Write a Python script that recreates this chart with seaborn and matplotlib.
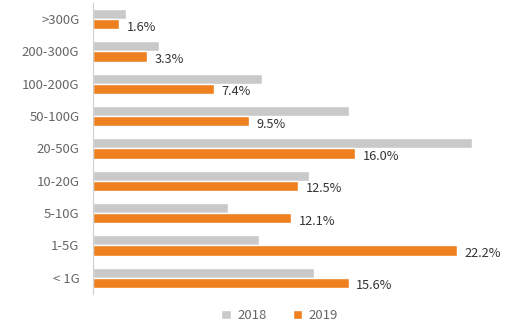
import matplotlib
matplotlib.use("Agg")
import matplotlib.pyplot as plt
import seaborn as sns
import pandas as pd
import numpy as np

categories = [">300G", "200-300G", "100-200G", "50-100G", "20-50G",
              "10-20G", "5-10G", "1-5G", "< 1G"]
share_2018 = [2.0, 4.0, 10.3, 15.6, 23.1, 13.2, 8.2, 10.1, 13.5]
share_2019 = [1.6, 3.3, 7.4, 9.5, 16.0, 12.5, 12.1, 22.2, 15.6]
years = ["2018", "2019"]
colors = ["#c9c9c9", "#ee8020"]

df = pd.DataFrame({
    "size": categories * 2,
    "share": share_2018 + share_2019,
    "year": [years[0]] * len(categories) + [years[1]] * len(categories),
})

sns.set_style("white")
plt.rcParams["font.family"] = ["Noto Sans CJK SC", "DejaVu Sans"]

fig = plt.figure(figsize=(5.18, 3.32), dpi=100)
ax = fig.add_axes([0.18, 0.1145, 0.80, 0.8765])

sns.barplot(data=df, x="share", y="size", hue="year", order=categories,
            hue_order=years, palette=colors, orient="h", width=0.62,
            saturation=1, ax=ax, legend=True)

# value labels next to the 2019 bars
cont19 = ax.containers[1]
for bar, v in zip(cont19, share_2019):
    ax.text(bar.get_width() + 0.45, bar.get_y() + bar.get_height() * 0.8,
            f"{v:.1f}%", va="center", ha="left", fontsize=9.2, color="#333333")

ax.set_xlim(0, 25.3)
ax.set_ylim(len(categories) - 0.5, -0.5)
ax.set_xlabel("")
ax.set_ylabel("")
ax.set_xticks([])

for s in ["top", "right", "bottom"]:
    ax.spines[s].set_visible(False)
ax.spines["left"].set_color("#cfcfcf")
ax.spines["left"].set_linewidth(0.8)

ax.tick_params(axis="y", which="major", length=0, labelsize=9.5,
               labelcolor="#666666", pad=10)
ax.set_yticks(np.arange(-0.5, len(categories), 1.0), minor=True)
ax.tick_params(axis="y", which="minor", length=4, color="#cfcfcf", width=0.8)

leg = ax.legend(loc="center", bbox_to_anchor=(0.45, -0.075), ncol=2,
                frameon=False, fontsize=9.5, handlelength=0.7, handleheight=0.7,
                columnspacing=2.0, handletextpad=0.5)
for t in leg.get_texts():
    t.set_color("#666666")

fig.savefig("out.png", dpi=100)
